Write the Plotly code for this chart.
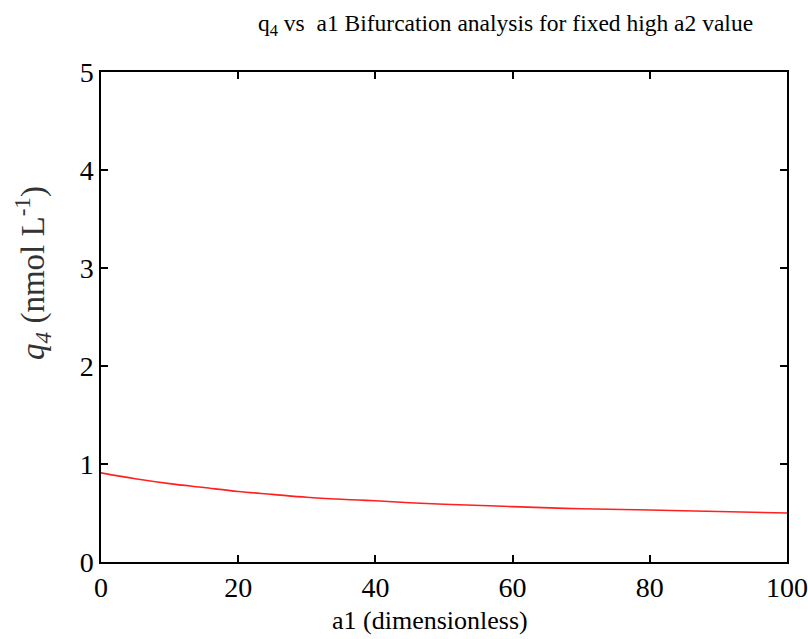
import plotly.graph_objects as go

a1 = [0, 5, 10, 15, 20, 25, 30, 35, 40, 45, 50, 60, 70, 80, 90, 100]
q4 = [0.91, 0.85, 0.80, 0.76, 0.72, 0.69, 0.66, 0.64, 0.625, 0.605, 0.59, 0.565, 0.543, 0.53, 0.515, 0.50]

x_ticks = [0, 20, 40, 60, 80, 100]
y_ticks = [0, 1, 2, 3, 4, 5]

FONT = "Liberation Serif, Times New Roman, serif"

fig = go.Figure()
fig.add_trace(go.Scatter(x=a1, y=q4, mode="lines", line=dict(color="#ff2020", width=1.6, shape="spline"),
                         showlegend=False, hoverinfo="skip"))

fig.update_layout(
    width=808, height=639,
    margin=dict(l=101, r=21, t=72, b=77),
    paper_bgcolor="white", plot_bgcolor="white",
    font=dict(family=FONT, color="black"),
    showlegend=False,
    annotations=[
        dict(text="q<sub>4</sub> vs  a1 Bifurcation analysis for fixed high a2 value",
             xref="paper", yref="paper", x=0.589, y=1.0, yshift=47, xanchor="center", yanchor="middle",
             showarrow=False, font=dict(size=23.5, family=FONT, color="black")),
        dict(text="<i>q<sub>4</sub></i> (nmol L<sup>-1</sup>)",
             xref="paper", yref="paper", x=0, xshift=-68, y=0.59, xanchor="center", yanchor="middle",
             textangle=-90, showarrow=False, font=dict(size=33, family=FONT, color="#333333")),
        dict(text="a1 (dimensionless)",
             xref="paper", yref="paper", x=0.48, y=0, yshift=-58, xanchor="center", yanchor="middle",
             showarrow=False, font=dict(size=26, family=FONT, color="black")),
    ],
)

fig.update_xaxes(
    range=[0, 100], tickvals=x_ticks, ticktext=[str(v) for v in x_ticks],
    ticks="inside", ticklen=7, tickwidth=1.5, tickcolor="black",
    showline=True, linecolor="black", linewidth=1.5, mirror="ticks",
    showgrid=False, zeroline=False, automargin=False, ticklabeloverflow="allow",
    tickfont=dict(size=28, family=FONT, color="black"),
)
fig.update_yaxes(
    range=[0, 5], tickvals=y_ticks, ticktext=[str(v) for v in y_ticks],
    ticks="inside", ticklen=7, tickwidth=1.5, tickcolor="black",
    showline=True, linecolor="black", linewidth=1.5, mirror="ticks",
    showgrid=False, zeroline=False, automargin=False,
    tickfont=dict(size=28, family=FONT, color="black"),
)

fig.write_html("out.html")
